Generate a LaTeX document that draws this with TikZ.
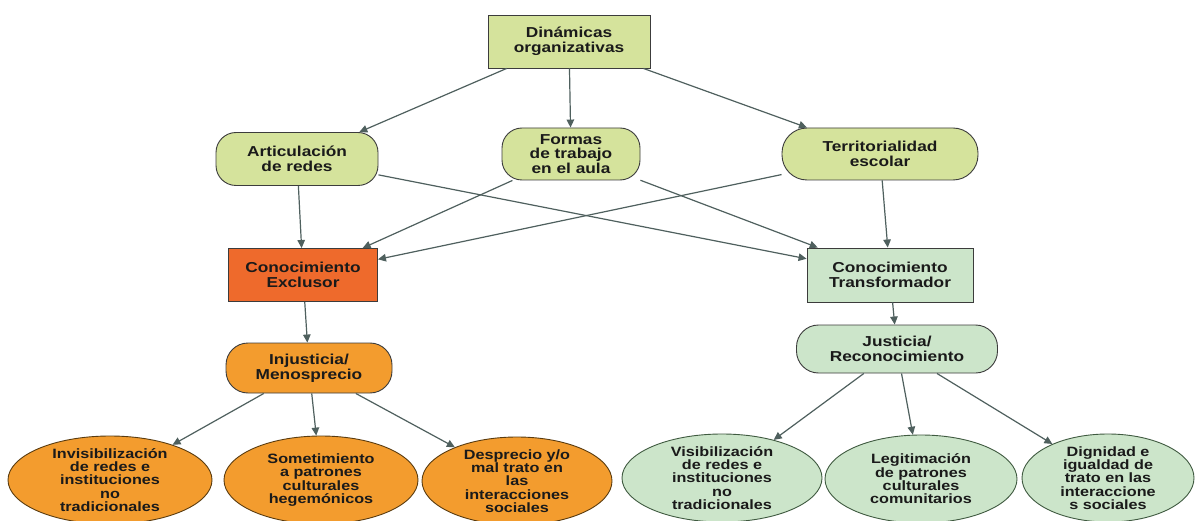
\documentclass[tikz,border=0pt]{standalone}
\usepackage{fontspec}
\setmainfont{Liberation Sans}[FakeStretch=1.2]
\usetikzlibrary{shapes.geometric,arrows.meta}
\definecolor{ygreen}{HTML}{D5E39C}
\definecolor{exred}{HTML}{EE6A2C}
\definecolor{orng}{HTML}{F39C2E}
\definecolor{lgreen}{HTML}{CCE5CA}
\definecolor{arrc}{HTML}{4F605E}
\definecolor{bord}{HTML}{3C3C3C}
\definecolor{obord}{HTML}{5A3C10}
\definecolor{gbord}{HTML}{3F5A40}
\definecolor{txt}{HTML}{1A1A1A}
\begin{document}
\begin{tikzpicture}[x=1pt,y=-1pt,
  base/.style={align=center, inner sep=0pt, font=\bfseries\fontsize{14.4}{14.6}\selectfont, text=txt, line width=0.9pt},
  rbox/.style={base, draw=bord, rectangle},
  rrbox/.style={base, draw=bord, rectangle, rounded corners=#1},
  ellO/.style={draw=obord, fill=orng, ellipse, inner sep=0pt, line width=0.9pt},
  ellG/.style={draw=gbord, fill=lgreen, ellipse, inner sep=0pt, line width=0.9pt},
  etext/.style={align=center, inner sep=0pt, font=\bfseries\fontsize{13.5}{13.4}\selectfont, text=txt},
  conn/.style={draw=arrc, line width=1.2pt, -{Triangle[length=8pt,width=7.5pt]}}
]
\useasboundingbox (0,0) rectangle (1196,521);
\clip (0,0) rectangle (1196,521);
\fill[white] (0,0) rectangle (1196,521);

% top level
\node[rbox, fill=ygreen, minimum width=162pt, minimum height=53pt] (din) at (569,41.5) {Dinámicas\\organizativas};

% second level
\node[rrbox=20pt, fill=ygreen, minimum width=162pt, minimum height=53pt] (art) at (297,159) {Articulación\\de redes};
\node[rrbox=20pt, fill=ygreen, minimum width=138pt, minimum height=52pt] (for) at (571,154) {Formas\\de trabajo\\en el aula};
\node[rrbox=25pt, fill=ygreen, minimum width=196pt, minimum height=52pt] (ter) at (880,154) {Territorialidad\\escolar};

% third level
\node[rbox, fill=exred, minimum width=149pt, minimum height=53pt] (exc) at (303,275) {Conocimiento\\Exclusor};
\node[rbox, fill=lgreen, minimum width=166pt, minimum height=54pt] (tra) at (890,275) {Conocimiento\\Transformador};

% fourth level
\node[rrbox=22pt, fill=orng, minimum width=166pt, minimum height=50pt] (inj) at (309,368) {Injusticia/\\Menosprecio};
\node[rrbox=22pt, fill=lgreen, minimum width=201pt, minimum height=48pt] (jus) at (897,349) {Justicia/\\Reconocimiento};

% bottom ellipses
\node[ellO, minimum width=204pt, minimum height=88pt] (e1) at (110,480) {};
\node[ellO, minimum width=194pt, minimum height=88pt] (e2) at (321,480) {};
\node[ellO, minimum width=190pt, minimum height=88pt] (e3) at (517,481) {};
\node[ellG, minimum width=200pt, minimum height=88pt] (e4) at (722,478) {};
\node[ellG, minimum width=192pt, minimum height=88pt] (e5) at (921,479) {};
\node[ellG, minimum width=172pt, minimum height=88pt] (e6) at (1108,478) {};

\node[etext] (t1) at (e1) {Invisibilización\\de redes e\\instituciones\\no\\tradicionales};
\node[etext] (t2) at (e2) {Sometimiento\\a patrones\\culturales\\hegemónicos};
\node[etext] (t3) at (e3) {Desprecio y/o\\mal trato en\\las\\interacciones\\sociales};
\node[etext] (t4) at (e4) {Visibilización\\de redes e\\instituciones\\no\\tradicionales};
\node[etext] (t5) at (e5) {Legitimación\\de patrones\\culturales\\comunitarios};
\node[etext] (t6) at (e6) {Dignidad e\\igualdad de\\trato en las\\interaccione\\s sociales};

% connectors
\draw[conn] (din) -- (art);
\draw[conn] (din) -- (for);
\draw[conn] (din) -- (ter);
\draw[conn] (art) -- (exc);
\draw[conn] (art) -- (tra);
\draw[conn] (for) -- (exc);
\draw[conn] (for) -- (tra);
\draw[conn] (ter) -- (exc);
\draw[conn] (ter) -- (tra);
\draw[conn] (exc) -- (inj);
\draw[conn] (tra) -- (jus);
\draw[conn] (inj) -- (e1);
\draw[conn] (inj) -- (e2);
\draw[conn] (inj) -- (e3);
\draw[conn] (jus) -- (e4);
\draw[conn] (jus) -- (e5);
\draw[conn] (jus) -- (e6);
\end{tikzpicture}
\end{document}
